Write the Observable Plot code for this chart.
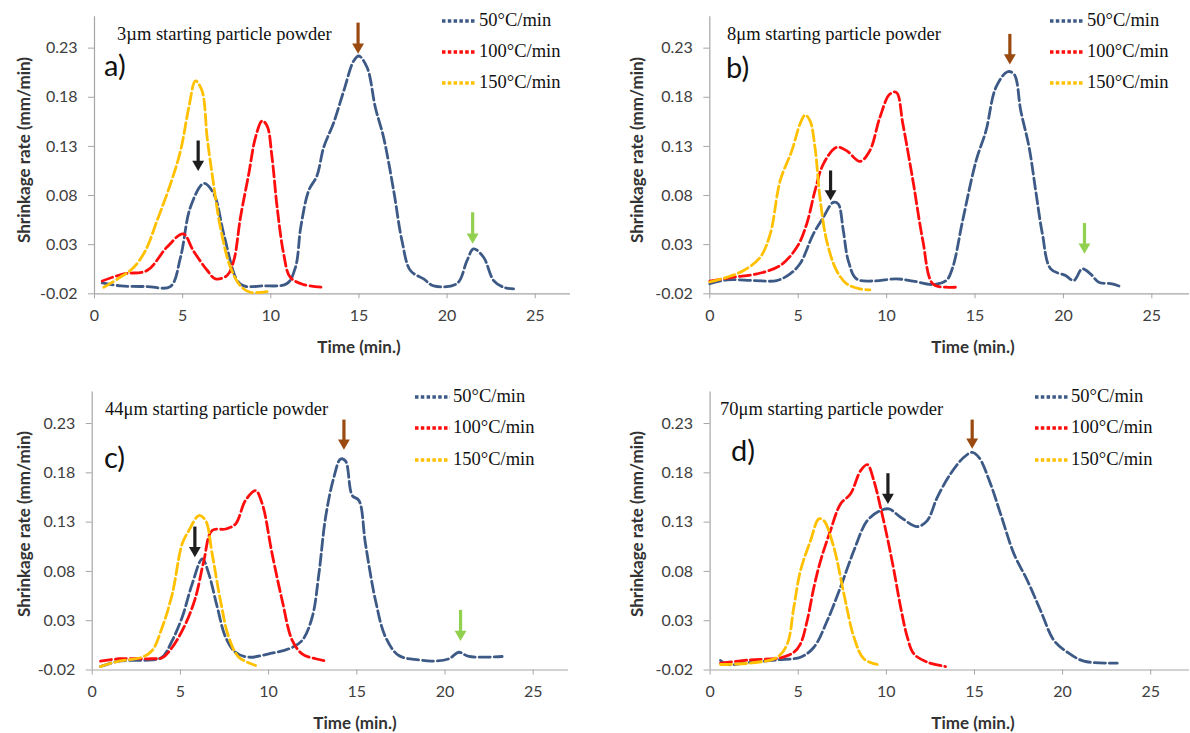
<!DOCTYPE html>
<html><head><meta charset="utf-8">
<script src="https://cdn.jsdelivr.net/npm/d3@7"></script>
<script src="https://cdn.jsdelivr.net/npm/@observablehq/plot@0.6"></script>
<style>
body{margin:0;background:#fff;}
#root{position:relative;width:1190px;height:733px;overflow:hidden;background:#fff;}
.panel{position:absolute;}
.panel svg{position:absolute;left:0;top:0;overflow:visible;}
.ov{position:absolute;white-space:nowrap;line-height:1;}
.serif{font-family:"Liberation Serif","Times New Roman",serif;font-size:18.5px;color:#111;}
.title{font-family:Lato,"Open Sans",sans-serif;font-weight:bold;font-size:17px;color:#333;}
.letter{font-family:Lato,"Open Sans",sans-serif;font-size:29px;color:#111;}
</style></head>
<body><div id="root"></div>
<script>
// ---------- data ----------
const seriesNames = ["50°C/min", "100°C/min", "150°C/min"];
const seriesColors = ["#3d5a87", "#ff0d0d", "#ffc000"];
const xTicks = [0, 5, 10, 15, 20, 25];
const yTicks = [-0.02, 0.03, 0.08, 0.13, 0.18, 0.23];
const panelLetters = ["a)", "b)", "c)", "d)"];
const panelNotes = ["3µm starting particle powder", "8μm starting particle powder", "44μm starting particle powder", "70μm starting particle powder"];

// panel a
const a50t = [0.44, 1.5, 3.0, 4.3, 4.88, 5.44, 6.2, 6.77, 7.33, 8.09, 8.47, 9.5, 10.92, 11.4, 11.7, 12.15, 12.62, 13.0, 13.57, 14.14, 14.7, 14.99, 15.47, 15.93, 16.4, 16.97, 17.44, 17.92, 18.67, 19.24, 20.56, 21.13, 21.5, 22.07, 22.64, 23.2, 23.77];
const a50r = [-0.009, -0.012, -0.0126, -0.0126, 0.0172, 0.068, 0.0924, 0.0816, 0.041, -0.0065, -0.012, -0.012, -0.0095, 0.007, 0.0477, 0.085, 0.1002, 0.129, 0.1543, 0.1866, 0.217, 0.222, 0.210, 0.1696, 0.139, 0.085, 0.034, 0.0037, -0.0048, -0.012, -0.0095, 0.0138, 0.0257, 0.0172, -0.0065, -0.0133, -0.015];
const a100t = [0.44, 1.66, 2.98, 4.1, 5.03, 5.6, 6.4, 6.86, 7.52, 7.9, 8.28, 8.75, 9.13, 9.51, 9.79, 10.07, 10.36, 10.73, 11.1, 11.86, 12.99];
const a100r = [-0.007, 0.0003, 0.0037, 0.0273, 0.041, 0.024, 0.0037, -0.0048, -0.0014, 0.0138, 0.0578, 0.102, 0.139, 0.156, 0.151, 0.1188, 0.068, 0.0206, -0.0031, -0.0106, -0.0133];
const a150t = [0.53, 1.47, 2.23, 2.89, 3.55, 4.31, 4.88, 5.35, 5.73, 6.1, 6.39, 6.67, 7.14, 7.71, 8.28, 8.84, 9.79];
const a150r = [-0.0133, -0.0031, 0.007, 0.024, 0.0545, 0.0918, 0.1256, 0.1696, 0.1967, 0.1866, 0.139, 0.102, 0.0477, 0.007, -0.012, -0.0184, -0.0177];

// panel b
const b50t = [0, 0.98, 2.5, 3.79, 4.54, 5.1, 5.86, 6.42, 6.98, 7.26, 7.55, 7.83, 8.3, 9.23, 10.55, 11.49, 12.61, 13.37, 13.74, 14.3, 15.06, 15.62, 16.18, 16.84, 17.21, 17.59, 18.06, 18.43, 18.81, 19.28, 20.12, 20.59, 21.06, 21.53, 22.0, 22.75, 23.31];
const b50r = [-0.0098, -0.0058, -0.0065, -0.0065, 0.0003, 0.0105, 0.041, 0.0578, 0.073, 0.0715, 0.0443, 0.0138, -0.0048, -0.007, -0.0048, -0.007, -0.0105, -0.0065, 0.007, 0.0545, 0.1154, 0.146, 0.19, 0.206, 0.2035, 0.166, 0.129, 0.085, 0.041, 0.0054, -0.0014, -0.0065, 0.0054, 0.0003, -0.0082, -0.0098, -0.0133];
const b100t = [0, 1.35, 2.67, 3.98, 4.92, 5.48, 5.95, 6.42, 7.17, 7.74, 8.49, 9.05, 9.61, 10.17, 10.55, 10.92, 11.49, 12.05, 12.61, 13.37, 13.93];
const b100r = [-0.007, -0.0031, 0.0003, 0.0088, 0.0273, 0.0511, 0.085, 0.112, 0.129, 0.1256, 0.1147, 0.1256, 0.159, 0.183, 0.185, 0.1527, 0.0951, 0.034, -0.0098, -0.0133, -0.0133];
const b150t = [0, 0.98, 1.91, 2.85, 3.42, 3.98, 4.64, 5.1, 5.39, 5.67, 5.95, 6.23, 6.61, 7.17, 7.74, 8.49, 9.05];
const b150r = [-0.008, -0.0031, 0.0037, 0.0172, 0.041, 0.0951, 0.1256, 0.1527, 0.162, 0.156, 0.129, 0.078, 0.034, 0.0037, -0.0098, -0.015, -0.016];

// panel c
const c50t = [0.47, 1.51, 3.4, 3.97, 4.54, 5.1, 5.67, 6.24, 6.61, 7.09, 7.56, 8.12, 8.88, 10.01, 11.15, 11.9, 12.47, 12.85, 13.23, 13.7, 14.08, 14.36, 14.74, 15.12, 15.49, 16.06, 16.63, 17.38, 18.52, 19.27, 20.22, 20.78, 21.35, 23.24];
const c50r = [-0.0165, -0.011, -0.0097, -0.007, 0.01, 0.0335, 0.0674, 0.0928, 0.0775, 0.0437, 0.0133, -0.002, -0.007, -0.0036, 0.0015, 0.01, 0.0335, 0.0775, 0.135, 0.1755, 0.194, 0.192, 0.157, 0.152, 0.108, 0.0505, 0.0133, -0.0053, -0.0097, -0.011, -0.0086, -0.002, -0.0063, -0.0063];
const c100t = [0.47, 1.51, 3.4, 3.97, 4.54, 5.29, 5.86, 6.33, 6.8, 7.56, 8.12, 8.69, 9.26, 9.64, 10.2, 10.77, 11.34, 11.9, 12.66, 13.32];
const c100r = [-0.011, -0.0086, -0.0086, -0.0076, 0.0031, 0.0268, 0.0538, 0.091, 0.1215, 0.123, 0.128, 0.152, 0.162, 0.1485, 0.0978, 0.0505, 0.01, -0.0036, -0.0086, -0.011];
const c150t = [0.47, 1.51, 2.83, 3.4, 3.97, 4.54, 5.1, 5.48, 6.05, 6.42, 6.8, 7.27, 7.74, 8.31, 9.26];
const c150r = [-0.0165, -0.011, -0.007, -0.0002, 0.0234, 0.0573, 0.108, 0.1215, 0.1367, 0.132, 0.0978, 0.0505, 0.0133, -0.007, -0.0154];

// panel d
const d50t = [0.59, 0.97, 2.29, 3.81, 5.13, 5.89, 6.65, 7.4, 8.16, 8.92, 9.67, 10.14, 10.81, 11.75, 12.32, 12.89, 13.64, 14.4, 14.87, 15.25, 15.91, 16.48, 17.24, 18.0, 18.75, 19.51, 20.27, 21.21, 23.1];
const d50r = [-0.0104, -0.0144, -0.0121, -0.0097, -0.007, 0.0031, 0.0302, 0.064, 0.1012, 0.1316, 0.1417, 0.1434, 0.135, 0.1255, 0.1316, 0.1552, 0.179, 0.1958, 0.2008, 0.1958, 0.1688, 0.1384, 0.0978, 0.0708, 0.0403, 0.01, -0.002, -0.011, -0.013];
const d100t = [0.59, 2.29, 4.0, 4.75, 5.13, 5.51, 5.89, 6.27, 6.83, 7.4, 7.97, 8.54, 8.92, 9.29, 9.67, 10.05, 10.43, 10.81, 11.19, 11.56, 12.32, 13.36];
const d100r = [-0.013, -0.0097, -0.0076, -0.002, 0.0066, 0.0302, 0.064, 0.091, 0.1215, 0.1485, 0.1587, 0.1823, 0.1884, 0.172, 0.145, 0.1147, 0.0809, 0.0437, 0.0133, -0.0036, -0.012, -0.0165];
const d150t = [0.59, 2.29, 3.81, 4.38, 4.75, 5.13, 5.7, 6.17, 6.45, 7.02, 7.59, 8.16, 8.72, 9.48];
const d150r = [-0.0144, -0.013, -0.007, 0.0066, 0.0437, 0.0809, 0.1113, 0.1333, 0.1316, 0.1045, 0.0573, 0.0133, -0.0086, -0.0144];

// arrows: [time, top, tip]
const arrowColors = {brown: "#9a4a10", black: "#1e1e1e", green: "#92d050"};
const aArrows = [["brown", 14.95, 0.256, 0.2245], ["black", 5.88, 0.136, 0.105], ["green", 21.45, 0.063, 0.031]];
const bArrows = [["brown", 16.97, 0.2445, 0.2135], ["black", 6.83, 0.1055, 0.075], ["green", 21.19, 0.052, 0.021]];
const cArrows = [["brown", 14.27, 0.234, 0.2035], ["black", 5.82, 0.1255, 0.0944], ["green", 20.88, 0.041, 0.0095]];
const dArrows = [["brown", 14.87, 0.234, 0.2045], ["black", 10.09, 0.1796, 0.1485]];

// ---------- layout ----------
const layouts = [
  {left: 0, top: 0, w: 595, h: 366, ml: 94, mr: 25, mt: 16.2, mb: 72.7, xMax: 27,
   yt: [23, 150], xt: [359, 346], note: [117, 34], letter: [104, 66], leg: [442, 476, 479], rows: [21, 52, 83]},
  {left: 595, top: 0, w: 595, h: 366, ml: 114.3, mr: 1, mt: 16.2, mb: 72.7, xMax: 27.13,
   yt: [41, 150], xt: [378, 346], note: [132, 34], letter: [131, 68], leg: [455, 489, 492], rows: [21, 52, 83]},
  {left: 0, top: 366, w: 595, h: 367, ml: 91.7, mr: 27, mt: 25.5, mb: 63.5, xMax: 27,
   yt: [23, 158], xt: [355, 356], note: [105, 43], letter: [104, 92], leg: [415, 450, 453], rows: [31, 62, 94]},
  {left: 595, top: 366, w: 595, h: 367, ml: 114.6, mr: 1, mt: 25.5, mb: 63.5, xMax: 27.2,
   yt: [41, 158], xt: [378, 356], note: [125, 43], letter: [136, 85], leg: [440, 473, 476], rows: [31, 62, 94]}
];

const panelSeries = [
  [[a50t, a50r], [a100t, a100r], [a150t, a150r]],
  [[b50t, b50r], [b100t, b100r], [b150t, b150r]],
  [[c50t, c50r], [c100t, c100r], [c150t, c150r]],
  [[d50t, d50r], [d100t, d100r], [d150t, d150r]]
];
const panelArrows = [aArrows, bArrows, cArrows, dArrows];

const root = document.getElementById("root");

function ov(parent, cls, text, x, y, extra) {
  const el = document.createElement("div");
  el.className = "ov " + cls;
  el.textContent = text;
  el.style.left = x + "px";
  el.style.top = y + "px";
  if (extra) Object.assign(el.style, extra);
  parent.appendChild(el);
  return el;
}

layouts.forEach((L, i) => {
  const div = document.createElement("div");
  div.className = "panel";
  Object.assign(div.style, {left: L.left + "px", top: L.top + "px", width: L.w + "px", height: L.h + "px"});
  root.appendChild(div);

  const rows = [];
  panelSeries[i].forEach(([ts, rs], k) => ts.forEach((t, j) => rows.push({t, r: rs[j], s: seriesNames[k]})));

  const arrowMarks = [];
  panelArrows[i].forEach(([c, t, top, tip]) => {
    const col = arrowColors[c];
    arrowMarks.push(Plot.link([{t, top, base: tip + 0.007}], {x1: "t", x2: "t", y1: "top", y2: "base", stroke: col, strokeWidth: 3.2}));
    arrowMarks.push(Plot.dot([{t, tip}], {x: "t", y: "tip", symbol: "triangle", rotate: 180, r: 4.4, fill: col, stroke: null, dy: -6.7}));
  });

  const chart = Plot.plot({
    width: L.w, height: L.h,
    marginLeft: L.ml, marginRight: L.mr, marginTop: L.mt, marginBottom: L.mb,
    x: {domain: [0, L.xMax]},
    y: {domain: [-0.02, 0.262]},
    color: {domain: seriesNames, range: seriesColors},
    style: {fontFamily: "Lato, 'Open Sans', sans-serif", fontSize: "16px", background: "transparent", overflow: "visible"},
    marks: [
      Plot.ruleY([-0.02], {stroke: "#a6a6a6", strokeWidth: 1.2}),
      Plot.ruleX([0], {stroke: "#a6a6a6", strokeWidth: 1.2}),
      Plot.axisX({ticks: xTicks, tickSize: 5, tickPadding: 11, tickFormat: d => String(d), label: null, stroke: "#a6a6a6", fill: "#404040"}),
      Plot.axisY({ticks: yTicks, tickSize: 6, tickPadding: 11, tickFormat: d => d.toFixed(2), label: null, stroke: "#a6a6a6", fill: "#404040"}),
      Plot.line(rows, {x: "t", y: "r", z: "s", stroke: "s", strokeWidth: 2.8, strokeDasharray: "11,4", curve: "catmull-rom"}),
      ...arrowMarks
    ]
  });
  div.appendChild(chart);

  // overlays
  ov(div, "title", "Shrinkage rate (mm/min)", L.yt[0], L.yt[1], {transform: "translate(-50%,-50%) rotate(-90deg)"});
  ov(div, "title", "Time (min.)", L.xt[0], L.xt[1], {transform: "translate(-50%,-50%)"});
  ov(div, "serif", panelNotes[i], L.note[0], L.note[1], {transform: "translateY(-50%)"});
  ov(div, "letter", panelLetters[i], L.letter[0], L.letter[1], {transform: "translateY(-55%)"});
  L.rows.forEach((ry, k) => {
    const svgNS = "http://www.w3.org/2000/svg";
    const s = document.createElementNS(svgNS, "svg");
    s.setAttribute("width", L.leg[1] - L.leg[0] + 2);
    s.setAttribute("height", 8);
    s.style.position = "absolute";
    s.style.left = L.leg[0] + "px";
    s.style.top = (ry - 4) + "px";
    const ln = document.createElementNS(svgNS, "line");
    ln.setAttribute("x1", 0); ln.setAttribute("x2", L.leg[1] - L.leg[0]);
    ln.setAttribute("y1", 4); ln.setAttribute("y2", 4);
    ln.setAttribute("stroke", seriesColors[k]);
    ln.setAttribute("stroke-width", 3.6);
    ln.setAttribute("stroke-dasharray", "3.5,2.3");
    s.appendChild(ln);
    div.appendChild(s);
    ov(div, "serif", seriesNames[k], L.leg[2], ry, {transform: "translateY(-52%)"});
  });
});
</script>
</body></html>
